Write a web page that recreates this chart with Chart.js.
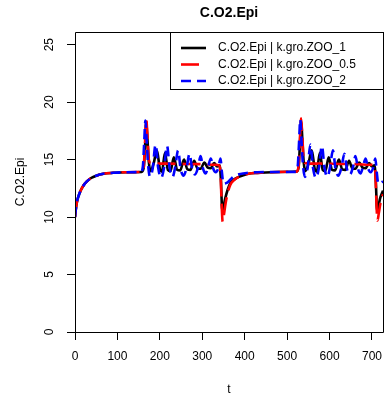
<!DOCTYPE html>
<html>
<head>
<meta charset="utf-8">
<script src="https://cdn.jsdelivr.net/npm/chart.js@4"></script>
<style>
  html, body { margin: 0; padding: 0; background: #fff; }
</style>
</head>
<body>
<canvas id="c" width="386" height="402"></canvas>
<script>
const chartTitle = 'C.O2.Epi';
const xTitle = 't';
const yTitle = 'C.O2.Epi';
const seriesNames = ['C.O2.Epi | k.gro.ZOO_1', 'C.O2.Epi | k.gro.ZOO_0.5', 'C.O2.Epi | k.gro.ZOO_2'];
const xTicks = [0, 100, 200, 300, 400, 500, 600, 700];
const yTicks = [0, 5, 10, 15, 20, 25];

// k.gro.ZOO_1 (black)
const tBlack = [0, 2, 5, 9, 14, 20, 28, 38, 50, 67, 90, 120, 157, 162, 165, 168, 171, 174, 178, 185,
  193, 200, 205, 212, 219, 225, 233, 241, 248, 257, 265, 272, 281, 289, 296, 305, 313, 320, 328, 335,
  341, 344, 347, 350, 354, 360, 366, 376, 386, 398, 409, 430, 449, 480, 512,
  522, 527, 530, 533, 536, 539, 543, 550, 558, 565, 570, 577, 584, 590, 598, 606, 613, 622, 630, 637,
  646, 654, 661, 670, 678, 685, 693, 700, 706, 709, 712, 715, 719, 726];
const vBlack = [10.0, 10.7, 11.4, 11.9, 12.35, 12.75, 13.1, 13.4, 13.6, 13.77, 13.85, 13.9, 13.92, 14.3, 16.0, 18.3, 16.6, 14.8, 14.0, 14.6,
  15.8, 14.2, 13.95, 15.6, 14.1, 14.0, 15.2, 14.1, 14.05, 15.0, 14.15, 14.1, 14.9, 14.2, 14.2, 14.75, 14.3, 14.25, 14.7, 14.4,
  14.5, 13.2, 10.6, 10.9, 11.6, 12.4, 12.95, 13.3, 13.5, 13.65, 13.77, 13.84, 13.88, 13.92, 13.94,
  13.95, 14.3, 16.2, 18.4, 16.7, 14.8, 14.0, 14.6, 15.8, 14.2, 13.95, 15.6, 14.1, 14.0, 15.2, 14.1, 14.05, 15.0, 14.15, 14.1,
  14.9, 14.2, 14.2, 14.75, 14.3, 14.25, 14.7, 14.4, 14.5, 13.2, 10.6, 10.9, 11.6, 12.3];

// k.gro.ZOO_0.5 (red)
const tRed = [0, 2, 5, 9, 14, 20, 28, 38, 50, 67, 90, 120, 157, 162, 165, 168, 171, 174, 178, 190,
  220, 260, 300, 330, 340, 343, 346, 348, 351, 355, 360, 366, 376, 386, 398, 409, 430, 449, 480, 512,
  522, 527, 530, 533, 536, 539, 543, 555, 585, 625, 665, 695, 705, 708, 711, 713, 716, 720, 726];
const vRed = [10.0, 10.7, 11.4, 11.9, 12.35, 12.75, 13.1, 13.4, 13.6, 13.77, 13.85, 13.9, 13.92, 14.4, 16.4, 18.5, 16.8, 15.0, 14.7, 14.65,
  14.65, 14.62, 14.6, 14.55, 14.5, 13.8, 10.8, 9.6, 10.2, 11.2, 12.1, 12.8, 13.25, 13.5, 13.65, 13.77, 13.84, 13.88, 13.92, 13.94,
  13.95, 14.4, 16.6, 18.6, 16.9, 15.0, 14.7, 14.65, 14.65, 14.62, 14.6, 14.55, 14.5, 13.8, 10.8, 9.7, 10.3, 11.2, 12.0];

// k.gro.ZOO_2 (blue)
const tBlue = [0, 2, 5, 9, 14, 20, 28, 38, 50, 67, 90, 120, 155, 160, 163, 166, 169, 172, 177, 183,
  190, 196, 203, 210, 217, 223, 230, 236, 243, 249, 256, 263, 270, 276, 283, 290, 296, 302, 308, 314,
  320, 326, 332, 338, 343, 346, 350, 356, 362, 370, 378, 390, 405, 430, 470,
  520, 525, 528, 531, 534, 537, 542, 548, 555, 561, 568, 575, 582, 588, 595, 601, 608, 614, 621, 628,
  635, 641, 648, 655, 661, 667, 673, 679, 685, 691, 697, 703, 708, 711, 715, 720, 726];
const vBlue = [10.0, 10.7, 11.4, 11.9, 12.35, 12.75, 13.1, 13.4, 13.6, 13.77, 13.85, 13.9, 13.92, 14.4, 16.4, 18.4, 16.6, 14.7, 13.5, 14.2,
  16.3, 14.3, 13.4, 14.3, 16.2, 14.3, 13.5, 14.3, 15.8, 14.2, 13.6, 14.3, 15.5, 14.2, 13.7, 14.3, 15.3, 14.2, 13.8, 14.4,
  15.1, 14.2, 13.9, 14.3, 15.1, 14.0, 12.9, 12.95, 13.1, 13.4, 13.6, 13.75, 13.84, 13.9, 13.92,
  13.93, 14.4, 16.4, 18.5, 16.6, 14.7, 13.5, 14.2, 16.3, 14.3, 13.4, 14.3, 16.2, 14.3, 13.5, 14.3, 15.8, 14.2, 13.6, 14.3,
  15.5, 14.2, 13.7, 14.3, 15.3, 14.2, 13.8, 14.4, 15.1, 14.2, 13.9, 14.3, 15.1, 14.0, 12.9, 12.95, 13.1];

const xMin = 0, xMax = 726;
const yMin = 0, yMax = 26.1;

const FONT = "'Liberation Sans', Arial, Helvetica, sans-serif";
Chart.defaults.font.family = FONT;
Chart.defaults.font.size = 12;
Chart.defaults.color = '#000';

const toXY = (ts, vs) => ts.map((t, i) => ({x: t, y: vs[i]}));

const lineStyles = [
  {color: '#000000', dash: []},
  {color: '#ff0000', dash: [18, 7]},
  {color: '#0000ff', dash: [10, 6]}
];

// box, title, vertical y tick labels and legend, drawn like base R graphics
const frameAndLegend = {
  id: 'frameAndLegend',
  afterDraw(chart) {
    const {ctx, chartArea: a} = chart;
    const L = Math.round(a.left) + 0.5, R = Math.round(a.right) + 0.5;
    const T = Math.round(a.top) + 0.5, B = Math.round(a.bottom) + 0.5;
    ctx.save();
    ctx.strokeStyle = '#000';
    ctx.lineWidth = 1;
    ctx.setLineDash([]);
    ctx.beginPath();
    ctx.moveTo(L, T); ctx.lineTo(R, T); ctx.lineTo(R, B); ctx.lineTo(L, B); ctx.closePath();
    ctx.stroke();

    ctx.fillStyle = '#000';
    ctx.font = 'bold 14px ' + FONT;
    ctx.textAlign = 'center';
    ctx.textBaseline = 'middle';
    ctx.fillText(chartTitle, (a.left + a.right) / 2, 13);

    // y tick labels read bottom-to-top
    const ys = chart.scales.y;
    ctx.font = '12px ' + FONT;
    yTicks.forEach(v => {
      ctx.save();
      ctx.translate(50, ys.getPixelForValue(v));
      ctx.rotate(-Math.PI / 2);
      ctx.fillText(String(v), 0, 0);
      ctx.restore();
    });

    const lx = 170, ly = Math.round(a.top), lw = Math.round(a.right) - lx, lh = 57;
    ctx.strokeRect(lx + 0.5, ly + 0.5, lw, lh);
    ctx.textAlign = 'left';
    seriesNames.forEach((name, i) => {
      const y = ly + 16 + i * 16.5;
      ctx.strokeStyle = lineStyles[i].color;
      ctx.lineWidth = 2.6;
      ctx.setLineDash(lineStyles[i].dash);
      ctx.beginPath();
      ctx.moveTo(181, y);
      ctx.lineTo(206, y);
      ctx.stroke();
      ctx.fillText(name, 218, y);
    });
    ctx.restore();
  }
};

const seriesData = [toXY(tBlack, vBlack), toXY(tRed, vRed), toXY(tBlue, vBlue)];

new Chart(document.getElementById('c').getContext('2d'), {
  type: 'line',
  data: {
    datasets: seriesData.map((d, i) => ({
      label: seriesNames[i],
      data: d,
      borderColor: lineStyles[i].color,
      borderDash: lineStyles[i].dash,
      borderWidth: 2.6,
      pointRadius: 0,
      fill: false,
      cubicInterpolationMode: 'monotone',
      order: 3 - i
    }))
  },
  plugins: [frameAndLegend],
  options: {
    responsive: false,
    animation: false,
    devicePixelRatio: 1,
    layout: { padding: { left: 0, top: 32, right: 3, bottom: 0 } },
    plugins: { legend: { display: false }, title: { display: false }, tooltip: { enabled: false } },
    scales: {
      x: {
        type: 'linear', min: xMin, max: xMax,
        afterBuildTicks: s => { s.ticks = xTicks.map(v => ({value: v})); },
        afterFit: s => { s.height = 70; s.paddingLeft = 0; s.paddingRight = 0; },
        grid: { drawOnChartArea: false, tickLength: 8, color: '#000' },
        border: { display: false },
        ticks: { padding: 9, maxRotation: 0, autoSkip: false, color: '#000' },
        title: { display: true, text: xTitle, padding: { top: 0, bottom: 5 }, color: '#000' }
      },
      y: {
        type: 'linear', min: yMin, max: yMax,
        afterBuildTicks: s => { s.ticks = yTicks.map(v => ({value: v})); },
        afterFit: s => { s.width = 75; s.paddingTop = 0; s.paddingBottom = 0; },
        grid: { drawOnChartArea: false, tickLength: 8, color: '#000' },
        border: { display: false },
        ticks: { display: false },
        title: { display: true, text: yTitle, padding: { top: 13, bottom: 0 }, color: '#000' }
      }
    }
  }
});
</script>
</body>
</html>
